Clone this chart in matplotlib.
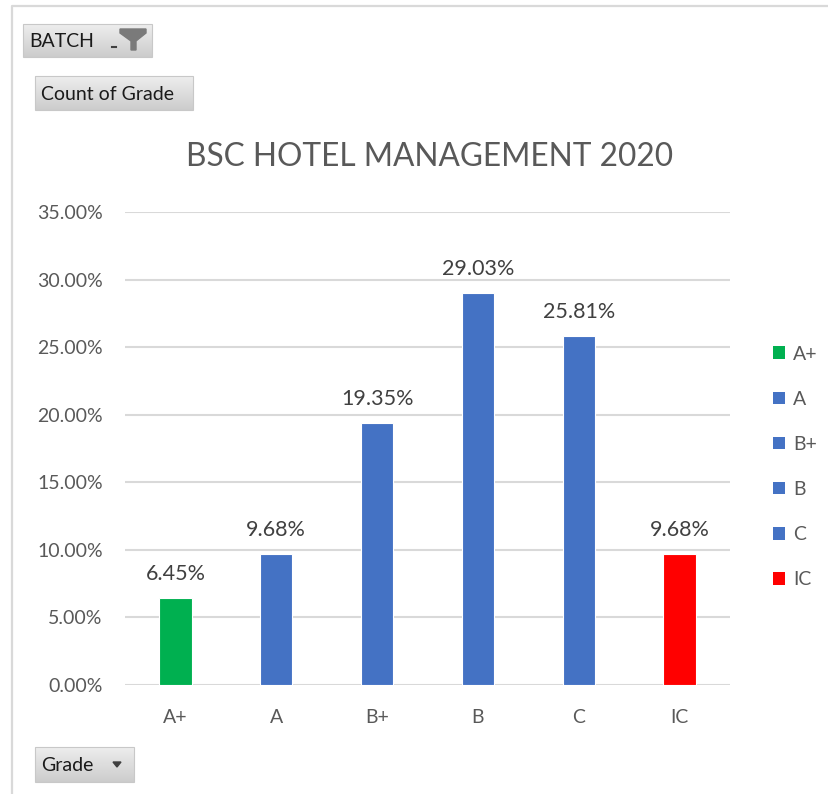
import numpy as np
import matplotlib.pyplot as plt
from matplotlib.patches import Rectangle, Polygon, Patch

# data
grades = ["A+", "A", "B+", "B", "C", "IC"]
share = [6.45, 9.68, 19.35, 29.03, 25.81, 9.68]  # percent
bar_colors = ["#00B050", "#4472C4", "#4472C4", "#4472C4", "#4472C4", "#FF0000"]
yticks = [0, 5, 10, 15, 20, 25, 30, 35]

plt.rcParams['font.family'] = ['Lato', 'DejaVu Sans']
GREY = "#595959"
W, H = 829, 794

fig = plt.figure(figsize=(W / 100, H / 100), dpi=100)

# background layer in pixel coordinates (frame + pivot buttons)
bg = fig.add_axes([0, 0, 1, 1], zorder=-1)
bg.set_xlim(0, W)
bg.set_ylim(H, 0)
bg.axis('off')
bg.plot([12, 12, W], [H, 6, 6], color="#d9d9d9", lw=1.6, solid_capstyle='butt')

grad = np.linspace(0.93, 0.80, 50).reshape(-1, 1)


def button(x0, y0, x1, y1, label, tx):
    bg.imshow(grad, cmap='gray', vmin=0, vmax=1, aspect='auto',
              extent=[x0, x1, y1, y0], interpolation='bilinear', zorder=1)
    bg.add_patch(Rectangle((x0, y0), x1 - x0, y1 - y0, fill=False,
                           edgecolor="#c8c8c8", lw=0.8, zorder=2))
    bg.text(tx, (y0 + y1) / 2 + 1, label, fontsize=14, color="#1a1a1a",
            va='center', ha='left', zorder=3)


button(23, 24, 152, 57, "BATCH", 29)
button(35, 76, 193, 110, "Count of Grade", 41)
button(35, 747, 134, 782, "Grade", 41)
# funnel icon and small dropdown mark on BATCH
bg.add_patch(Polygon([[120, 29], [146, 29], [146, 33], [136, 41], [136, 50],
                      [131, 50], [131, 41], [120, 33]], closed=True,
                     color="#7a7a7a", zorder=3))
bg.plot([112, 116], [47, 47], color="#404040", lw=1.5, zorder=3)
# dropdown triangle on Grade
bg.add_patch(Polygon([[113, 762], [121, 762], [117, 767]], closed=True,
                     color="#404040", zorder=3))

# main chart
ax = fig.add_axes([125 / W, 1 - 685 / H, 605 / W, 473 / H])
x = np.arange(len(grades))
bars = ax.bar(x, share, width=0.32, color=bar_colors, edgecolor="white",
              linewidth=0.8, zorder=3)
for xi, v in zip(x, share):
    ax.annotate(f"{v:.2f}%", (xi, v), xytext=(0, 14), textcoords='offset pixels',
                ha='center', va='bottom', fontsize=15.5, color="#404040")

ax.set_xlim(-0.5, len(grades) - 0.5)
ax.set_ylim(0, 35)
ax.set_yticks(yticks)
ax.set_yticklabels([f"{t:.2f}%" for t in yticks])
ax.set_xticks(x)
ax.set_xticklabels(grades)
ax.tick_params(axis='both', length=0, labelsize=14, colors=GREY)
ax.tick_params(axis='y', pad=16)
ax.tick_params(axis='x', pad=17)
ax.grid(axis='y', color="#d9d9d9", lw=1.5, zorder=0)
for s in ax.spines.values():
    s.set_visible(False)
ax.set_facecolor('none')

fig.text(430 / W, 1 - 157 / H, "BSC HOTEL MANAGEMENT 2020", ha='center',
         va='center', fontsize=22.8, color="#595959")

handles = [Patch(facecolor=c, edgecolor='none') for c in bar_colors]
fig.legend(handles, grades, loc='upper left', bbox_to_anchor=(756 / W, 1 - 328 / H),
           frameon=False, fontsize=14, labelcolor=GREY, handlelength=0.6,
           handleheight=0.6, handletextpad=0.4, labelspacing=1.45)

fig.savefig("out.png", dpi=100)
